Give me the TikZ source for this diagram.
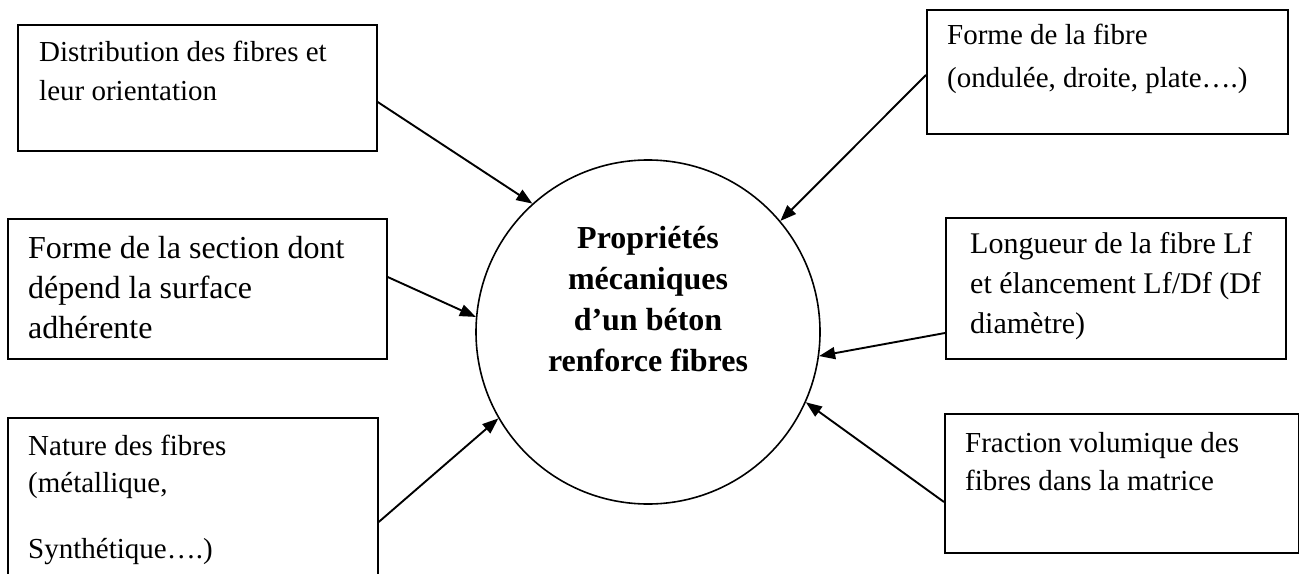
\documentclass[tikz,border=0pt]{standalone}
\usepackage{fontspec}
\setmainfont{Liberation Serif}
\usetikzlibrary{arrows.meta}
\begin{document}
\begin{tikzpicture}[x=1bp,y=-1bp,
  box/.style={draw, line width=1.7bp, inner sep=0pt, anchor=north west},
  txt/.style={anchor=base west, inner sep=0pt, font=\fontsize{29bp}{39bp}\selectfont},
  txtm/.style={anchor=base west, inner sep=0pt, font=\fontsize{30bp}{40bp}\selectfont},
  big/.style={anchor=base west, inner sep=0pt, font=\fontsize{32bp}{40bp}\selectfont},
  ctr/.style={anchor=base, inner sep=0pt, font=\fontsize{32bp}{40bp}\selectfont\bfseries},
  arr/.style={line width=1.9bp, -{Triangle[length=16bp,width=12bp]}}]
\useasboundingbox[fill=white] (0,0) rectangle (1299,574);

% boxes
\node[box, minimum width=359bp, minimum height=126bp] (tl) at (17,24) {};
\node[box, minimum width=379bp, minimum height=140bp] (ml) at (7,218) {};
\node[box, minimum width=370bp, minimum height=175bp] (bl) at (7,417) {};
\node[box, minimum width=361bp, minimum height=124bp] (tr) at (926,9) {};
\node[box, minimum width=340bp, minimum height=141bp] (mr) at (945,217) {};
\node[box, minimum width=354bp, minimum height=139bp] (br) at (944,413) {};

% circle
\node[draw, circle, line width=1.6bp, minimum size=344bp, inner sep=0pt] (c) at (648,332) {};

% texts
\node[txt] (tl1) at (39,62) {Distribution des fibres et};
\node[txt] (tl2) at (39,101) {leur orientation};

\node[big] (ml1) at (28,258) {Forme de la section dont};
\node[big] (ml2) at (28,298) {dépend la surface};
\node[big] (ml3) at (28,338) {adhérente};

\node[txt] (bl1) at (28,455) {Nature des fibres};
\node[txt] (bl2) at (28,492) {(métallique,};
\node[txt] (bl3) at (28,558) {Synthétique….)};

\node[txt] (tr1) at (947,45) {Forme de la fibre};
\node[txt] (tr2) at (947,88) {(ondulée, droite, plate….)};

\node[txtm] (mr1) at (970,253) {Longueur de la fibre Lf};
\node[txtm] (mr2) at (970,293) {et élancement Lf/Df (Df};
\node[txtm] (mr3) at (970,333) {diamètre)};

\node[txt] (br1) at (965,452) {Fraction volumique des};
\node[txt] (br2) at (965,490) {fibres dans la matrice};

\node[ctr] (c1) at (648,248) {Propriétés};
\node[ctr] (c2) at (648,289) {mécaniques};
\node[ctr] (c3) at (648,330) {d’un béton};
\node[ctr] (c4) at (648,371) {renforce fibres};

% arrows
\coordinate (y1) at (0,102);
\coordinate (y2) at (0,277);
\coordinate (y3) at (0,522);
\coordinate (y4) at (0,75);
\coordinate (y5) at (0,333);
\coordinate (y6) at (0,502);
\draw[arr] (tl.east |- y1) -- (c.132.5);
\draw[arr] (ml.east |- y2) -- (c.175.4);
\draw[arr] (bl.east |- y3) -- (c.210.7);
\draw[arr] (tr.west |- y4) -- (c.40.3);
\draw[arr] (mr.west |- y5) -- (c.-8.3);
\draw[arr] (br.west |- y6) -- (c.-24.8);
\end{tikzpicture}
\end{document}
